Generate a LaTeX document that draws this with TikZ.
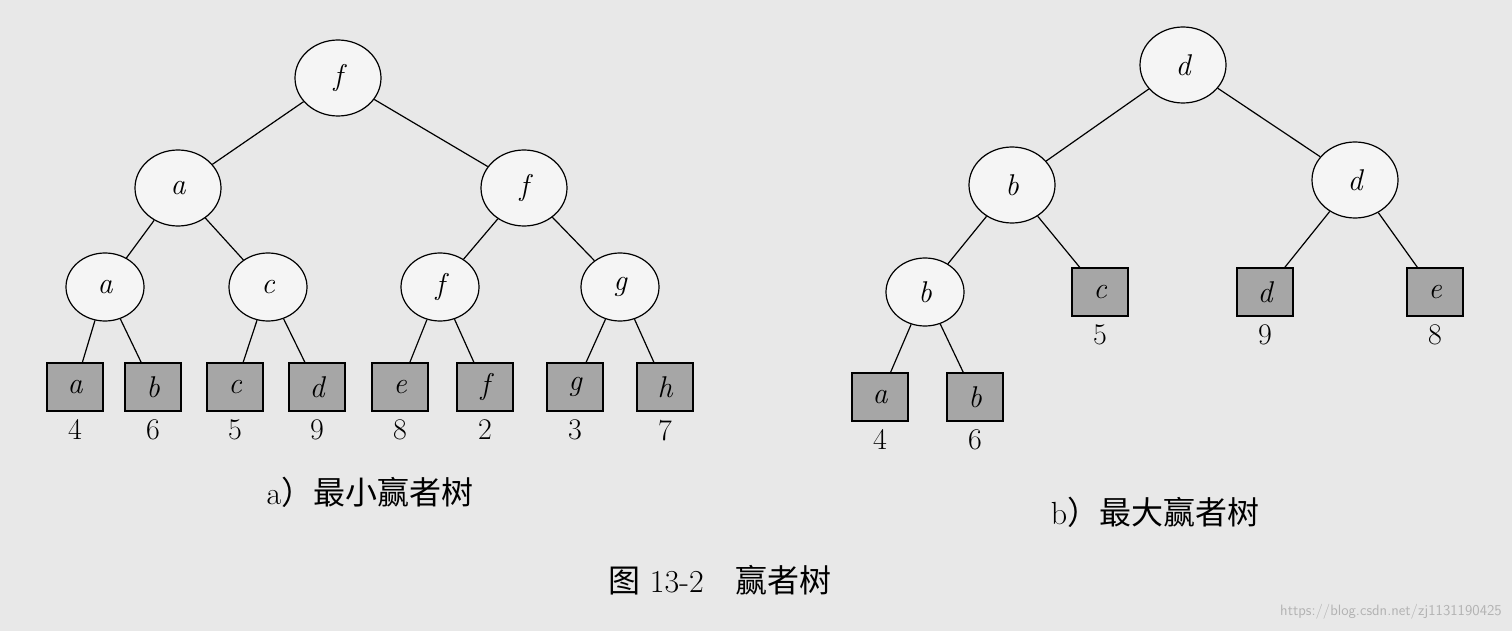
\documentclass[tikz,border=0pt]{standalone}
\usepackage{fontspec}
\newfontfamily\cjk{Noto Sans CJK SC}
\usetikzlibrary{shapes.geometric}
\begin{document}
\begin{tikzpicture}[x=1pt,y=-1pt,
  inner/.style={ellipse,draw,line width=1.2pt,fill=white!92!gray,minimum width=86pt,minimum height=76pt,inner sep=0pt,font=\fontsize{30}{30}\selectfont\itshape},
  inner3/.style={inner,minimum width=78pt,minimum height=68pt},
  leaf/.style={rectangle,draw,line width=1.2pt,fill=gray!70,minimum width=56pt,minimum height=48pt,inner sep=0pt,font=\fontsize{30}{30}\selectfont\itshape},
  num/.style={font=\fontsize{30}{30}\selectfont,inner sep=0pt},
  captxt/.style={font=\fontsize{32}{32}\selectfont,inner sep=0pt},
  edge/.style={line width=1.2pt}]
\fill[gray!18] (0,0) rectangle (1512,631);
\useasboundingbox (0,0) rectangle (1512,631);
% tree a
\node[inner] (af) at (338,78) {f};
\node[inner] (aa) at (178,188) {a};
\node[inner] (af2) at (524,188) {f};
\node[inner3] (aa3) at (105,287) {a};
\node[inner3] (ac3) at (268,287) {c};
\node[inner3] (af3) at (440,287) {f};
\node[inner3] (ag3) at (620,287) {g};
\node[leaf] (la) at (75,387) {a};
\node[leaf] (lb) at (153,387) {b};
\node[leaf] (lc) at (235,387) {c};
\node[leaf] (ld) at (317,387) {d};
\node[leaf] (le) at (400,387) {e};
\node[leaf] (lf) at (485,387) {f};
\node[leaf] (lg) at (575,387) {g};
\node[leaf] (lh) at (665,387) {h};
\foreach \n/\v in {la/4,lb/6,lc/5,ld/9,le/8,lf/2,lg/3,lh/7}
  \node[num,below=8pt] (n\n) at (\n.south) {\v};
\draw[edge] (af)--(aa) (af)--(af2) (aa)--(aa3) (aa)--(ac3) (af2)--(af3) (af2)--(ag3)
  (aa3)--(la) (aa3)--(lb) (ac3)--(lc) (ac3)--(ld) (af3)--(le) (af3)--(lf) (ag3)--(lg) (ag3)--(lh);
\node[captxt] (capa) at (370,492) {a{\cjk ）最小赢者树}};
% tree b
\node[inner] (bd) at (1183,65) {d};
\node[inner] (bb) at (1012,185) {b};
\node[inner] (bd2) at (1355,180) {d};
\node[inner3] (bb3) at (925,292) {b};
\node[leaf] (mc) at (1100,292) {c};
\node[leaf] (md) at (1265,292) {d};
\node[leaf] (me) at (1435,292) {e};
\node[leaf] (ma) at (880,397) {a};
\node[leaf] (mb) at (975,397) {b};
\foreach \n/\v in {mc/5,md/9,me/8,ma/4,mb/6}
  \node[num,below=8pt] (n\n) at (\n.south) {\v};
\draw[edge] (bd)--(bb) (bd)--(bd2) (bb)--(bb3) (bb)--(mc) (bd2)--(md) (bd2)--(me) (bb3)--(ma) (bb3)--(mb);
\node[captxt] (capb) at (1155,512) {b{\cjk ）最大赢者树}};
\node[captxt] (fig) at (720,580) {{\cjk 图} 13-2\quad{\cjk 赢者树}};
\node[font=\fontsize{15}{15}\sffamily,text=gray!60,anchor=east,inner sep=0pt] (wm) at (1502,612) {https://blog.csdn.net/zj1131190425};
\end{tikzpicture}
\end{document}
